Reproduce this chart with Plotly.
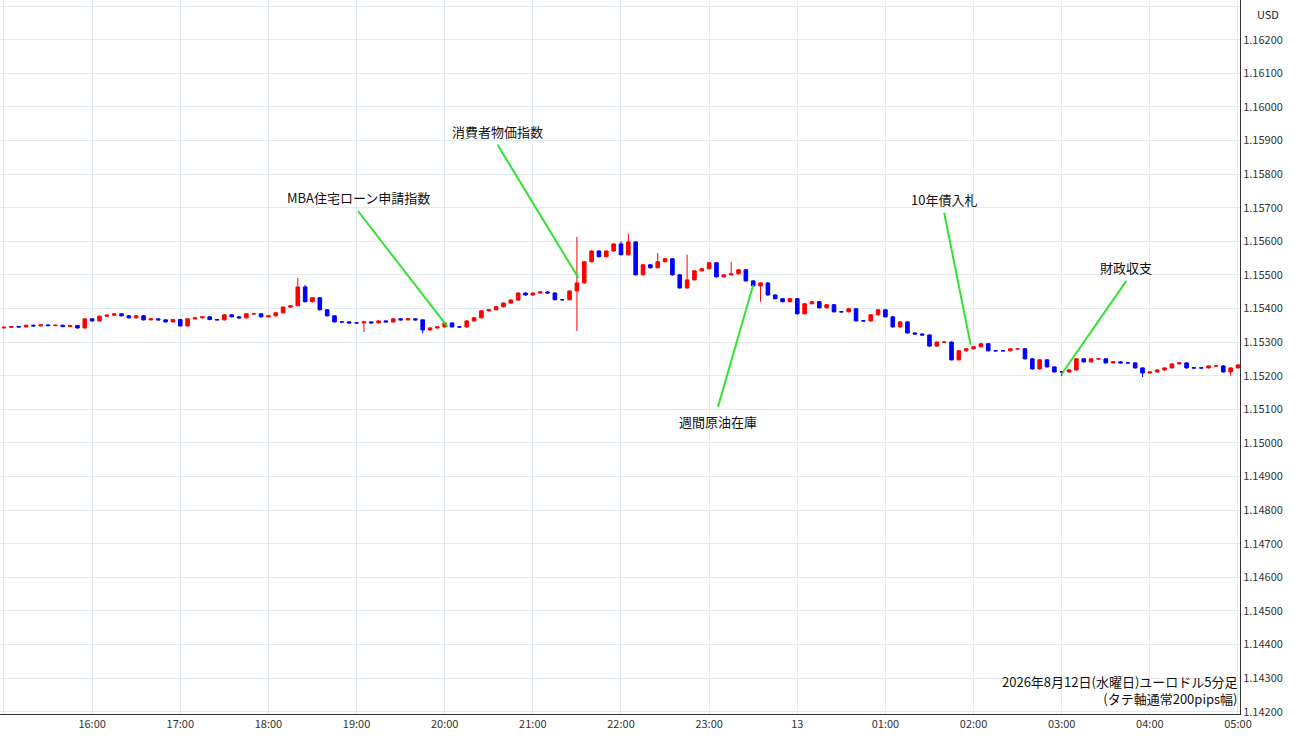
import plotly.graph_objects as go
import pandas as pd

# closes in units of 0.00001 above 1.15000 (5-min candles from 15:00 to 05:00)
close_pips = [
    344,346,345,350,348,351,349,350,346,349,342,369,   # 15
    363,377,380,384,378,372,378,366,369,366,360,367,   # 16
    348,369,372,375,367,366,381,375,372,384,384,375,   # 17
    378,387,404,408,464,420,432,396,378,360,360,357,   # 18
    357,360,357,363,360,369,366,369,366,336,342,345,   # 19
    357,345,345,363,372,393,396,405,416,425,446,440,   # 20
    446,449,446,426,426,452,476,539,571,554,571,592,   # 21
    560,598,500,530,521,539,548,500,461,485,512,518,   # 22
    536,494,500,503,515,482,467,476,440,429,420,429,   # 23
    384,414,420,402,411,390,390,399,363,363,381,396,   # 00
    375,345,360,327,324,321,288,300,300,247,274,280,   # 01
    286,295,274,274,274,280,280,250,220,247,226,211,   # 02
    211,217,250,241,250,250,238,241,238,238,223,208,   # 03
    211,217,223,235,238,223,223,223,229,229,211,223,   # 04
    232,
]
first_open = 342
# notable wick extremes (candle index: pips)
high_over = {40: 491, 41: 470, 78: 613, 84: 600, 85: 622, 89: 565, 99: 539, 93: 560}
low_over = {78: 333, 49: 330, 57: 326, 103: 420, 144: 199, 155: 196, 167: 200}

times = pd.date_range("2026-08-12 15:00", periods=len(close_pips), freq="5min")
opens, closes, highs, lows = [], [], [], []
prev = first_open
for i, c in enumerate(close_pips):
    o = prev
    h = high_over.get(i, max(o, c) + 2)
    l = low_over.get(i, min(o, c) - 2)
    opens.append(1.15 + o / 1e5); closes.append(1.15 + c / 1e5)
    highs.append(1.15 + h / 1e5); lows.append(1.15 + l / 1e5)
    prev = c

tick_times = pd.date_range("2026-08-12 15:00", "2026-08-13 05:00", freq="1h")
tick_text = ["13" if t.hour == 0 else t.strftime("%H:%M") for t in tick_times]

# annotations: (label, text time, text price, line-end time, line-end price)
events = [
    ("MBA住宅ローン申請指数", "2026-08-12 19:01", 1.15690, "2026-08-12 20:02", 1.15345),
    ("消費者物価指数", "2026-08-12 20:36", 1.15887, "2026-08-12 21:31", 1.15491),
    ("週間原油在庫", "2026-08-12 23:06", 1.15107, "2026-08-12 23:30", 1.15470),
    ("10年債入札", "2026-08-13 01:40", 1.15685, "2026-08-13 01:58", 1.15292),
    ("財政収支", "2026-08-13 03:44", 1.15482, "2026-08-13 03:00", 1.15205),
]

fig = go.Figure(go.Candlestick(
    x=times, open=opens, high=highs, low=lows, close=closes,
    increasing=dict(line=dict(color="#ff0000", width=1), fillcolor="#ff0000"),
    decreasing=dict(line=dict(color="#0000ff", width=1), fillcolor="#0000ff"),
    whiskerwidth=0, showlegend=False, hoverinfo="skip",
))

for label, tt, tp, lt, lp in events:
    fig.add_shape(type="line", x0=tt, y0=tp, x1=lt, y1=lp, xref="x", yref="y",
                  line=dict(color="#33e233", width=2))
    below = tp < lp
    fig.add_annotation(x=tt, y=tp, text=label, showarrow=False, xref="x", yref="y",
                       yanchor="top" if below else "bottom", yshift=-3 if below else 2,
                       font=dict(size=13, color="#111", family="Noto Sans CJK JP"))

fig.add_annotation(xref="paper", yref="paper", x=1, y=0.005, xanchor="right", yanchor="bottom",
                   align="right", showarrow=False,
                   text="2026年8月12日(水曜日)ユーロドル5分足<br>(タテ軸通常200pips幅)",
                   font=dict(size=13, color="#111", family="Noto Sans CJK JP"))
fig.add_annotation(xref="paper", yref="paper", x=1.012, y=0.995, xanchor="left", yanchor="top",
                   showarrow=False, text="USD", font=dict(size=11, color="#222"))

fig.update_layout(
    width=1300, height=745, margin=dict(l=0, r=60, t=0, b=31),
    paper_bgcolor="white", plot_bgcolor="white",
    font=dict(family="Noto Sans CJK JP", size=11, color="#333"),
    xaxis=dict(range=["2026-08-12 14:57:17", "2026-08-13 05:01:22"], tickvals=tick_times, ticktext=tick_text,
               showgrid=True, gridcolor="#e3eaf1", rangeslider=dict(visible=False), automargin=False,
               showline=True, linecolor="#333", ticks="", tickfont=dict(size=11)),
    yaxis=dict(side="right", range=[1.14193, 1.16318], dtick=0.001, tick0=1.142, tickformat=".5f",
               showgrid=True, gridcolor="#e3eaf1", showline=True, linecolor="#333", automargin=False,
               ticks="", tickfont=dict(size=11), zeroline=False),
)
fig.write_html("out.html", config={"displayModeBar": False})

# remove the browser's default page margin so the figure sits at the window origin
with open("out.html", encoding="utf-8") as f:
    html = f.read()
html = html.replace("<head>", "<head><style>html,body{margin:0;padding:0;overflow:hidden}</style>", 1)
with open("out.html", "w", encoding="utf-8") as f:
    f.write(html)
